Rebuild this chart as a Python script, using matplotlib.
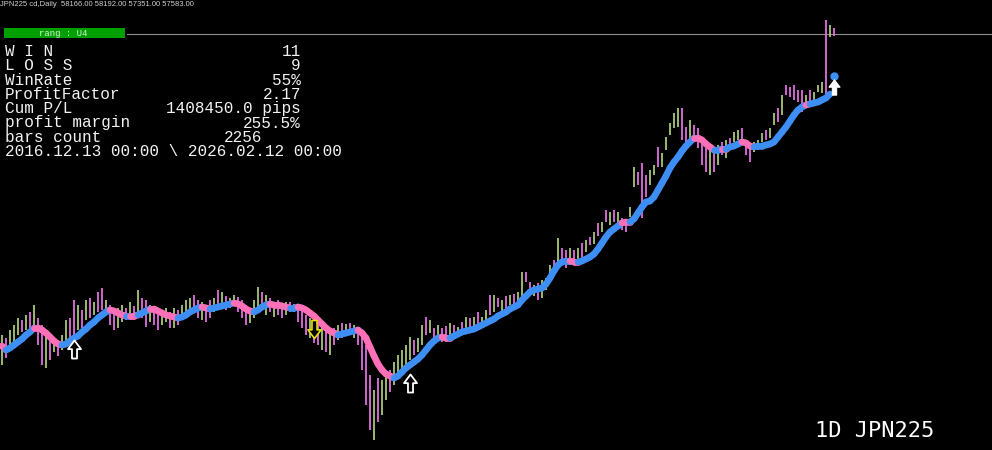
import matplotlib
matplotlib.use("Agg")
import matplotlib.pyplot as plt
from matplotlib.path import Path
from matplotlib.patches import Rectangle
from matplotlib.collections import LineCollection

# text shown on the chart
symbol_line = "JPN225 cd,Daily  58166.00 58192.00 57351.00 57583.00"
range_tag = "rang : U4"
stat_labels = ["W I N", "L O S S", "WinRate", "ProfitFactor", "Cum P/L", "profit margin", "bars count"]
stat_values = ["11", "9", "55%", "2.17", "1408450.0 pips", "255.5%", "2256"]
date_range = "2016.12.13 00:00 \\ 2026.02.12 00:00"
corner_label = "1D JPN225"
last_close = 57583

# daily bars (high / low), g = up bar, p = down bar
highs = [
    27500, 27200, 28000, 28500, 29200, 29000, 29500, 29800, 30500, 29200,
    28500, 28000, 27500, 27200, 27000, 27500, 29000, 29200, 31000, 30500,
    30000, 31000, 31200, 30800, 31800, 32200, 31000, 30500, 30000, 30200,
    30500, 30200, 30800, 30400, 32000, 31200, 31000, 30500, 30000, 29800,
    30000, 30200, 29800, 30200, 30000, 30500, 31000, 31200, 31500, 31000,
    30800, 30500, 31000, 31200, 32000, 31800, 31400, 31200, 31500, 31300,
    31000, 30500, 30200, 31000, 32300, 31800, 31500, 31200, 30800, 31000,
    30700, 30800, 30800, 30600, 30200, 30000, 29500, 29200, 29000, 28500,
    28300, 28200, 28000, 28200, 28500, 28700, 28600, 28700, 28500, 28000,
    27500, 26500, 23500, 22000, 23200, 23000, 23500, 24000, 24800, 25500,
    26000, 26500, 27300, 27000, 27200, 28500, 29300, 29000, 28200, 28500,
    28200, 28400, 28700, 28500, 28300, 28800, 29300, 29200, 29300, 29800,
    29300, 30000, 31500, 31500, 31200, 31000, 31400, 31500, 31600, 31800,
    33800, 33800, 32800, 32500, 32700, 33000, 33200, 34500, 35000, 37200,
    36200, 36000, 36200, 36000, 36200, 36700, 37000, 37300, 37800, 38700,
    38800, 40000, 39800, 40000, 39800, 39200, 38800, 40300, 44300, 43800,
    44700, 43500, 44000, 44500, 46300, 45700, 47300, 48700, 49700, 50200,
    50200, 48300, 49000, 48500, 48200, 47200, 46200, 46200, 45800, 46500,
    46800, 47000, 47200, 47800, 48000, 48200, 46500, 46200, 46800, 47000,
    47700, 48000, 48200, 49700, 50200, 51500, 52500, 52300, 52500, 52000,
    52000, 51500, 52000, 51800, 52500, 52800, 59000, 58500, 58192,
]
lows = [
    24500, 25200, 26200, 26800, 27500, 27800, 28000, 28200, 28000, 26500,
    24500, 24200, 25000, 25800, 25400, 26000, 27000, 27200, 27500, 28000,
    28200, 29000, 29200, 29500, 29800, 30000, 29500, 28500, 28000, 28200,
    28800, 29000, 29200, 29000, 29500, 29200, 28300, 28800, 28500, 28000,
    28500, 28800, 28200, 28200, 28500, 29000, 29200, 29500, 29800, 29200,
    29000, 28800, 29200, 29800, 30200, 30400, 30000, 30200, 30400, 29800,
    29200, 28500, 28700, 29200, 29800, 30000, 29500, 29800, 29300, 29500,
    29200, 29500, 29800, 29800, 28800, 28200, 27500, 27200, 26700, 26500,
    26000, 25800, 25500, 26500, 27000, 27200, 27400, 27500, 27200, 26500,
    24000, 20500, 18000, 17000, 18800, 19500, 21000, 21800, 22500, 23200,
    24000, 24500, 25000, 25500, 25800, 26500, 27500, 27700, 27200, 27000,
    26800, 26800, 27200, 27400, 27500, 27600, 27800, 28000, 28200, 28400,
    28500, 28800, 29500, 29800, 30300, 29800, 30200, 30500, 30500, 30700,
    30800, 32800, 32000, 31400, 31000, 31200, 32000, 33000, 33500, 34800,
    34800, 34200, 34500, 34800, 35000, 35200, 35800, 36500, 36600, 37400,
    37800, 38800, 38500, 38800, 38200, 38000, 37800, 39300, 42300, 42500,
    39200, 41300, 42500, 43500, 44300, 44300, 46000, 47500, 48200, 48300,
    47000, 46200, 46500, 47000, 46200, 44500, 43800, 43500, 43800, 44500,
    45500, 45200, 46300, 46800, 47000, 46800, 45500, 44800, 45800, 46000,
    46800, 47000, 47200, 48500, 48800, 49500, 51500, 51300, 51000, 50800,
    49800, 50200, 50300, 51000, 51800, 51700, 51500, 57300, 57351,
]
bar_dir = ("gpgggpgpgp" "pgpgpggppg" "pgpgppgppg" "gpgpgppgpp" "ggpgpgggpp"
           "gppgpgpggp" "ppgggpgpgp" "pgpgpppgpp" "gpgpgpgpgp" "pppgpggpgg"
           "gggpggpgpg" "ppgpgpgpgp" "ggpgpgpgpg" "gppgpgggpg" "ppgpgpgpgp"
           "gpgpgppggp" "ppggpggggg" "ppgppppgpg" "pgpggpppgg" "gpggpgpppp"
           "pgpgggpgp")

# trend line value per bar, u = blue / d = pink
trend = [
    26400, 26000, 26200, 26500, 26800, 27100, 27500, 27800, 28200, 28200,
    28000, 27700, 27300, 26900, 26600, 26500, 26600, 26900, 27200, 27400,
    27800, 28100, 28500, 28800, 29200, 29500, 29800, 30000, 29900, 29700,
    29500, 29400, 29400, 29400, 29500, 29700, 29900, 30100, 30100, 29900,
    29700, 29500, 29400, 29300, 29200, 29300, 29500, 29800, 30000, 30200,
    30300, 30200, 30100, 30200, 30300, 30400, 30500, 30600, 30700, 30600,
    30400, 30100, 29900, 29800, 30000, 30300, 30500, 30600, 30500, 30500,
    30400, 30300, 30200, 30200, 30300, 30200, 30000, 29700, 29400, 29000,
    28600, 28200, 27900, 27700, 27500, 27600, 27700, 27800, 27900, 28000,
    27700, 27200, 26300, 25400, 24600, 24000, 23600, 23400, 23200, 23400,
    23800, 24200, 24500, 24800, 25100, 25500, 26000, 26500, 26900, 27200,
    27300, 27200, 27200, 27400, 27600, 27800, 27900, 28000, 28100, 28300,
    28500, 28700, 28900, 29100, 29400, 29600, 29800, 30100, 30300, 30500,
    31000, 31400, 31800, 32000, 32100, 32200, 32600, 33200, 33900, 34500,
    34800, 34900, 34900, 34800, 34800, 34900, 35100, 35300, 35600, 36100,
    36700, 37300, 37800, 38100, 38400, 38700, 38800, 38800, 39100, 39700,
    40300, 40800, 40900, 41300, 42000, 42700, 43400, 44200, 44800, 45300,
    45900, 46400, 46800, 47200, 47200, 47000, 46600, 46300, 46000, 46000,
    46100, 46100, 46300, 46400, 46600, 46800, 46700, 46400, 46300, 46400,
    46400, 46500, 46600, 46800, 47300, 47800, 48300, 48900, 49500, 50000,
    50300, 50500, 50600, 50700, 50800, 51000, 51200, 51600,
]
trend_dir = ("duuuuuuudd" "ddddduuuuu" "uuuuuuuddd" "dudduuuddd" "dddduuuuuu"
             "dduuuuuudd" "ddduuuuddd" "dduudddddd" "dddduuuuud" "dddddddduu"
             "uuuuuuuuuu" "dduuuuuuuu" "uuuuuuuuuu" "uuuuuuuuuu" "uudduuuuuu"
             "uuuuudduuu" "uuuuuuuuuu" "uuuddddduu" "duuuuddduu" "uuuuuuuuuu"
             "uduuuuuu")

# signal arrows and the last dot
signal_bar = [18, 78, 102, 208]
signal_price = [26100, 28100, 22700, 52300]
signal_kind = ["up", "down", "up", "up_solid"]
dot_bar = [208]
dot_val = [53400]

W, H = 992, 450
fig = plt.figure(figsize=(W / 100, H / 100), dpi=100, facecolor="black")
ax = fig.add_axes([0, 0, 1, 1], facecolor="black")
ax.set_xlim(-0.5, W / 4 - 0.5)
ax.set_ylim(16000, 61000)
ax.axis("off")

GREEN = "#a9c77a"
VIOLET = "#df6fdf"
BLUE = "#3d8ef5"
PINK = "#ff70b8"

# price line
ax.axhline(last_close, xmin=127 / W, xmax=1, color="#8c8c8c", lw=0.8, zorder=1)

cols = [GREEN if c == "g" else VIOLET for c in bar_dir]
ax.vlines(range(len(highs)), lows, highs, colors=cols, linewidth=1.3, zorder=2)

segs, seg_cols = [], []
for k in range(len(trend) - 1):
    segs.append([(k, trend[k]), (k + 1, trend[k + 1])])
    seg_cols.append(BLUE if trend_dir[k] == "u" else PINK)
ax.add_collection(LineCollection(segs, colors=seg_cols, linewidths=4.8,
                                 capstyle="round", zorder=3))
ax.plot(dot_bar, dot_val, "o", color=BLUE, ms=5, zorder=4)

up_arrow = Path([(0, 0.5), (0.36, 0.02), (0.14, 0.02), (0.14, -0.5),
                 (-0.14, -0.5), (-0.14, 0.02), (-0.36, 0.02), (0, 0.5)], closed=True)
down_arrow = Path([(x, -y) for x, y in up_arrow.vertices], closed=True)
for b, p, kind in zip(signal_bar, signal_price, signal_kind):
    if kind == "up":
        ax.plot(b, p, marker=up_arrow, ms=13, mfc="black", mec="white", mew=1.3, zorder=5)
    elif kind == "down":
        ax.plot(b, p, marker=down_arrow, ms=13, mfc="black", mec="#e8e000", mew=1.2, zorder=5)
    else:
        ax.plot(b, p, marker=up_arrow, ms=11, mfc="white", mec="white", mew=0.8, zorder=5)


def fx(x):
    return x / W


def fy(y):
    return 1 - y / H


fig.text(fx(0), fy(4), symbol_line, color="#d0d0d0", fontsize=5.5,
         family="Liberation Sans", va="center", ha="left")

fig.patches.append(Rectangle((fx(4), fy(38)), 121 / W, 10 / H, transform=fig.transFigure,
                             facecolor="#00a000", edgecolor="none"))
fig.text(fx(63), fy(33), range_tag, color="#d8f0d8", fontsize=6.5,
         family="Liberation Mono", va="center", ha="center")

# stat rows, 14.3 px apart
first_base, step = 56, 14.3
value_right = [301, 301, 301, 301, 301, 301, 262]
for k, (lab, val, xr) in enumerate(zip(stat_labels, stat_values, value_right)):
    yb = first_base + k * step
    fig.text(fx(5), fy(yb), lab, color="#f2f2f2", fontsize=11.5,
             family="Liberation Mono", va="baseline", ha="left")
    fig.text(fx(xr), fy(yb), val, color="#f2f2f2", fontsize=11.5,
             family="Liberation Mono", va="baseline", ha="right")
fig.text(fx(5), fy(first_base + 7 * step), date_range, color="#f2f2f2", fontsize=11.5,
         family="Liberation Mono", va="baseline", ha="left")

fig.text(fx(815), fy(437), corner_label, color="white", fontsize=15.8,
         family="DejaVu Sans Mono", va="baseline", ha="left")

fig.savefig("out.png", dpi=100, facecolor="black")
